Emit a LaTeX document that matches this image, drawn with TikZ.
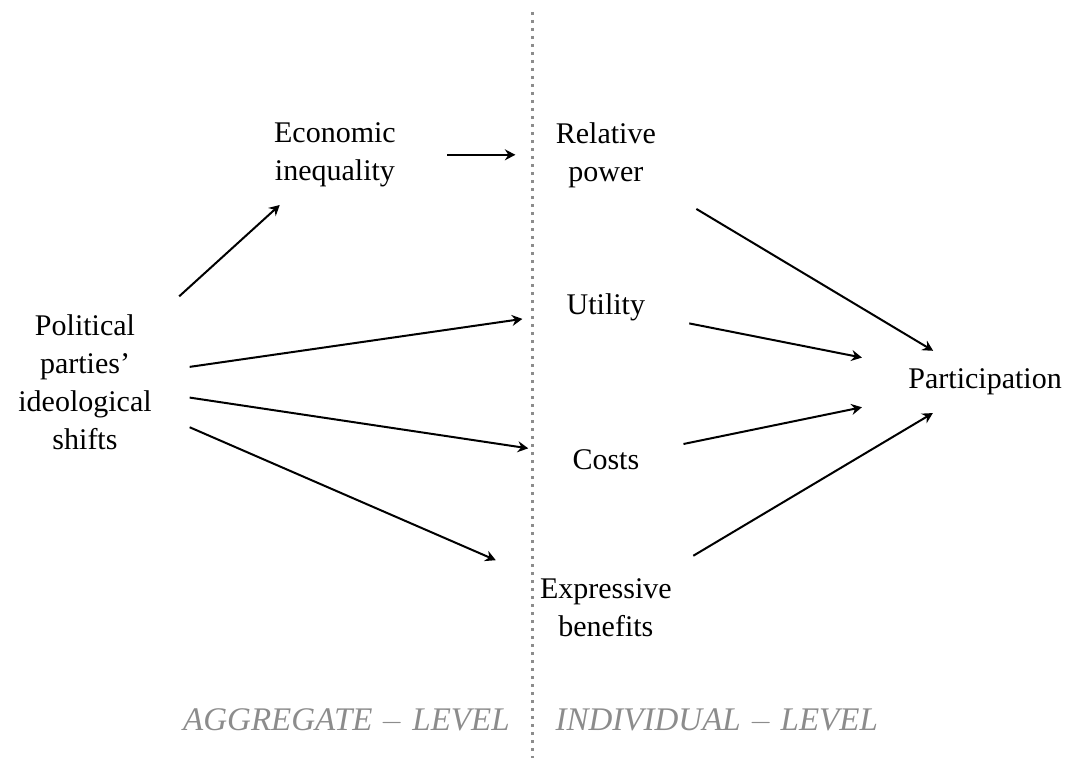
\documentclass[tikz,border=0pt]{standalone}
\usepackage{fontspec}
\setmainfont{Liberation Serif}
\usepackage{tikz}
\usetikzlibrary{positioning, arrows.meta}
\colorlet{levelgray}{black!45}

\begin{document}
\fontsize{12}{15.2}\selectfont
\begin{tikzpicture}[
    > = {Stealth[length = 4.2pt, width = 4.4pt, inset = 1.4pt]},
    align = center, on grid,
    concept/.style = {
      inner xsep = 17.5pt, inner ysep = 7pt
    },
    mechanism/.style = {
      concept, inner ysep = 9pt
    },
    link/.style = {
      arrows = ->, thick
    },
    divider/.style = {
      draw = levelgray, line width = 1.2pt, dotted
    },
    level/.style = {
      text = levelgray, font = \fontsize{13.2}{16}\itshape, inner sep = 0pt
    },
    ]

    \useasboundingbox  (-2.833em, -12.63em)  rectangle  (32.73em, 12.73em);

    % aggregate-level side
    \node  [concept, inner xsep = 15pt]  (parties)  {Political\\parties'\\ideological\\shifts};
    \node  [concept, inner xsep = 20.3pt]  (inequality)  [above right = 7.57em and 8.33em of parties]  {Economic\\inequality};

    % individual-level mechanisms
    \node  [mechanism, inner xsep = 16pt]  (power)  [right = 9.03em of inequality]  {Relative\\power};
    \node  [mechanism]  (utility)  [below = 5.07em of power]  {Utility};
    \node  [mechanism]  (costs)  [below = 5.1em of utility]  {Costs};
    \node  [mechanism]  (expressive)  [below = 4.93em of costs]  {Expressive\\benefits};
    \node  [concept, inner xsep = 18.4pt]  (participation)  [right = 30em of parties]  {Participation};

    % level divider
    \coordinate  (divtop)  at ([xshift = 14.9em, yshift = 12.33em]parties.center);
    \coordinate  (divbot)  at ([xshift = 14.9em, yshift = -12.53em]parties.center);
    \draw  [divider]  (divtop)  --  (divbot);

    \node  [level, anchor = east]  (aggregate)  at ([xshift = -0.73em, yshift = 1.23em]divbot)  {AGGREGATE $-$ LEVEL};
    \node  [level, anchor = west]  (individual)  at ([xshift = 0.77em, yshift = 1.23em]divbot)  {INDIVIDUAL $-$ LEVEL};

    % paths
    \draw  [link]  (inequality)  to  (power);
    \foreach \target in {inequality, utility, costs, expressive}
    \draw  [link]  (parties)  to  (\target);
    \foreach \source in {power, utility, costs, expressive}
    \draw  [link]  (\source)  to  (participation);

\end{tikzpicture}
\end{document}
